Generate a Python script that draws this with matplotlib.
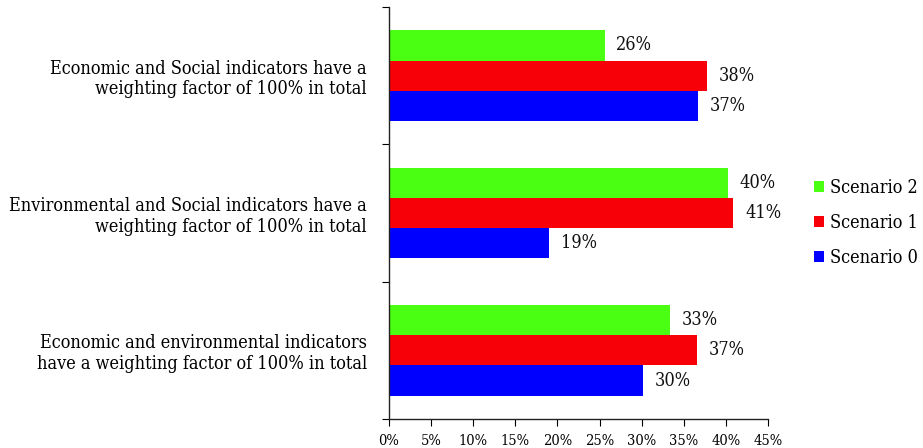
import matplotlib
matplotlib.use("Agg")
import matplotlib.pyplot as plt
import numpy as np

plt.rcParams['font.family'] = ['DejaVu Serif']
plt.rcParams['font.stretch'] = 'condensed'

categories = [
    "Economic and Social indicators have a\nweighting factor of 100% in total",
    "Environmental and Social indicators have a\nweighting factor of 100% in total",
    "Economic and environmental indicators\nhave a weighting factor of 100% in total",
]
scenario_names = ["Scenario 0", "Scenario 1", "Scenario 2"]
scenario_0 = [36.7, 19.0, 30.1]
scenario_1 = [37.8, 40.9, 36.6]
scenario_2 = [25.6, 40.2, 33.4]
x_ticks = [0, 5, 10, 15, 20, 25, 30, 35, 40, 45]

colors = ["#0000FF", "#F70008", "#4BFF12"]
series = [scenario_0, scenario_1, scenario_2]

fig = plt.figure(figsize=(9.23, 4.48), dpi=100)
ax = fig.add_axes([389 / 923, 1 - 419 / 448, (768 - 389) / 923, (419 - 7) / 448])

n = len(categories)
# group centers top-to-bottom
centers = np.arange(n)[::-1].astype(float)
bar_h = 0.22
offsets = [-bar_h, 0.0, bar_h]  # blue bottom, red middle, green top

handles = []
for vals, col, off, name in zip(series, colors, offsets, scenario_names):
    bars = ax.barh(centers + off, vals, height=bar_h, color=col, label=name,
                   edgecolor="none")
    handles.append(bars)
    for y, v in zip(centers + off, vals):
        ax.text(v + 1.4, y, f"{v:.0f}%", va="center", ha="left", fontsize=13,
                color="#111111")

ax.set_xlim(0, 45)
ax.set_ylim(-0.5, n - 0.5)
ax.set_xticks(x_ticks)
ax.set_xticklabels([f"{t}%" for t in x_ticks], fontsize=10.5)
ax.tick_params(axis="x", length=5, direction="out", pad=6)

# group boundaries as major ticks, category labels at group centers
ax.set_yticks(np.arange(-0.5, n, 1.0))
ax.set_yticklabels([])
ax.tick_params(axis="y", which="major", length=5, direction="out")
ax.set_yticks(centers, minor=True)
ax.set_yticklabels(categories, minor=True, fontsize=13)
ax.tick_params(axis="y", which="minor", length=0, pad=16)

for side in ["top", "right"]:
    ax.spines[side].set_visible(False)
for side in ["left", "bottom"]:
    ax.spines[side].set_color("#222222")
    ax.spines[side].set_linewidth(1.0)

leg = fig.legend(handles[::-1], [h.get_label() for h in handles[::-1]],
                 loc="center left", bbox_to_anchor=(814 / 923, 1 - 223 / 448),
                 frameon=False, fontsize=13, handlelength=0.55, handleheight=0.55,
                 handletextpad=0.33, labelspacing=0.95, borderpad=0,
                 borderaxespad=0)

fig.savefig("out.png", dpi=100)
